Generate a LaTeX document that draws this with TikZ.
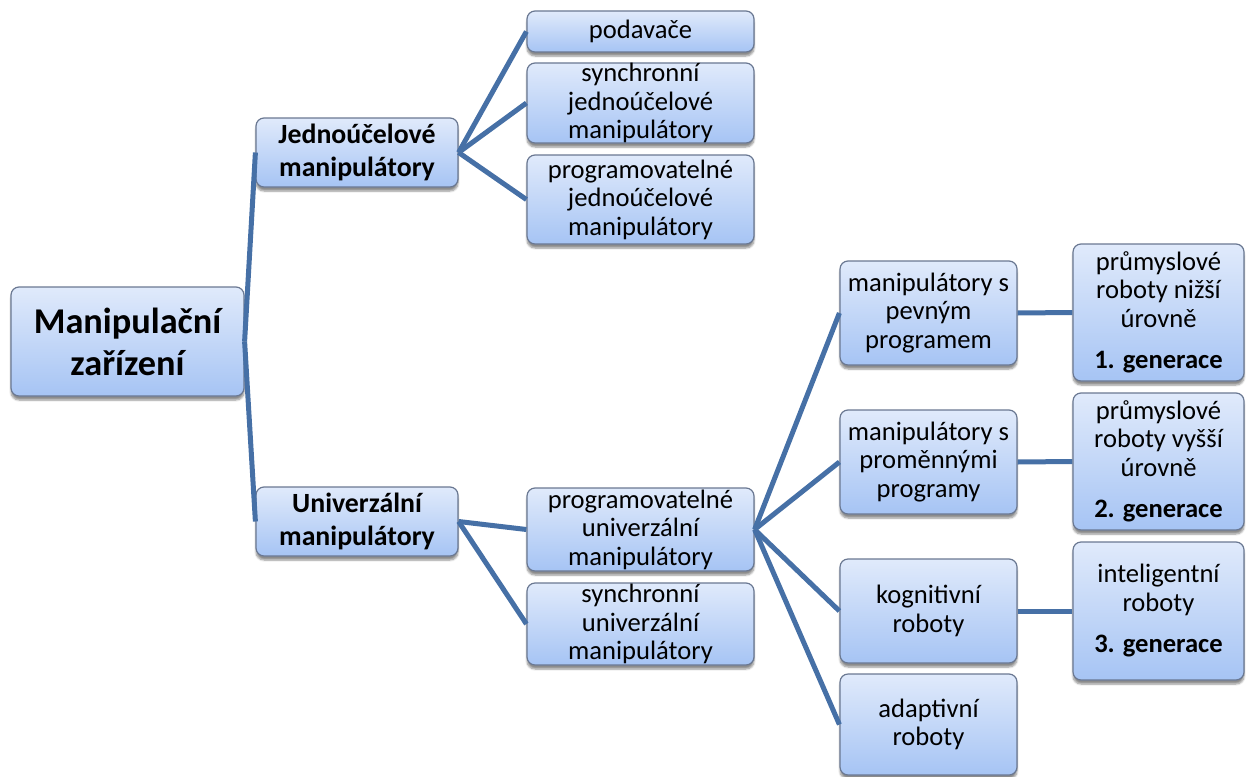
\documentclass[tikz,border=0pt]{standalone}
\usepackage{fontspec}
\setmainfont{Carlito}
\usetikzlibrary{shadows.blur}
\definecolor{boxtop}{RGB}{224,234,251}
\definecolor{boxbot}{RGB}{166,196,244}
\definecolor{boxline}{RGB}{106,120,146}
\definecolor{conn}{RGB}{70,112,166}
\tikzset{
  box/.style={draw=boxline, line width=1.2pt, rounded corners=8pt,
    top color=boxtop, bottom color=boxbot, align=center, inner sep=0pt,
    font=\fontsize{26.6}{28.5}\selectfont,
    blur shadow={shadow xshift=0pt, shadow yshift=-4pt, shadow blur steps=6, shadow opacity=45}},
  lvlone/.style={box, font=\fontsize{27.8}{33}\selectfont\bfseries},
  rootbox/.style={box, font=\fontsize{36.3}{42}\selectfont\bfseries},
  link/.style={draw=conn, line width=5pt}
}
\begin{document}
\begin{tikzpicture}[x=1pt,y=-1pt]
\useasboundingbox (0,0) rectangle (1252,776);
% root
\node[rootbox, minimum width=233pt, minimum height=109pt] (root) at (127.5,341.5) {Manipulační\\zařízení};
% level 1
\node[lvlone, minimum width=202pt, minimum height=69pt] (jedn) at (357,152.5) {Jednoúčelové\\manipulátory};
\node[lvlone, minimum width=202pt, minimum height=69pt] (univ) at (357,521.5) {Univerzální\\manipulátory};
% level 2 upper
\node[box, minimum width=227pt, minimum height=41pt] (pod) at (640.5,31.5) {podavače};
\node[box, minimum width=227pt, minimum height=80pt] (sj) at (640.5,103) {synchronní\\jednoúčelové\\manipulátory};
\node[box, minimum width=227pt, minimum height=89pt] (pj) at (640.5,199.5) {programovatelné\\jednoúčelové\\manipulátory};
% level 2 lower
\node[box, minimum width=227pt, minimum height=83pt] (pu) at (640.5,529.5) {programovatelné\\univerzální\\manipulátory};
\node[box, minimum width=227pt, minimum height=82pt] (su) at (640.5,624) {synchronní\\univerzální\\manipulátory};
% level 3
\node[box, minimum width=177pt, minimum height=104pt] (mp) at (928.5,313) {manipulátory s\\pevným\\programem};
\node[box, minimum width=177pt, minimum height=104pt] (mv) at (928.5,462) {manipulátory s\\proměnnými\\programy};
\node[box, minimum width=177pt, minimum height=104pt] (kr) at (928.5,611) {kognitivní\\roboty};
\node[box, minimum width=177pt, minimum height=101pt] (ar) at (928.5,724.5) {adaptivní\\roboty};
% level 4
\node[box, minimum width=171pt, minimum height=137pt] (g1) at (1158.5,312.5) {průmyslové\\roboty nižší\\úrovně\\[13pt]\textbf{1. generace}};
\node[box, minimum width=171pt, minimum height=137pt] (g2) at (1158.5,461.5) {průmyslové\\roboty vyšší\\úrovně\\[13pt]\textbf{2. generace}};
\node[box, minimum width=171pt, minimum height=138pt] (g3) at (1158.5,611) {inteligentní\\roboty\\[13pt]\textbf{3. generace}};
% connectors
\draw[link] (root.east) -- (jedn.west);
\draw[link] (root.east) -- (univ.west);
\draw[link] (jedn.east) -- (pod.west);
\draw[link] (jedn.east) -- (sj.west);
\draw[link] (jedn.east) -- (pj.west);
\draw[link] (univ.east) -- (pu.west);
\draw[link] (univ.east) -- (su.west);
\draw[link] (pu.east) -- (mp.west);
\draw[link] (pu.east) -- (mv.west);
\draw[link] (pu.east) -- (kr.west);
\draw[link] (pu.east) -- (ar.west);
\draw[link] (mp.east) -- (g1.west);
\draw[link] (mv.east) -- (g2.west);
\draw[link] (kr.east) -- (g3.west);
\end{tikzpicture}
\end{document}
